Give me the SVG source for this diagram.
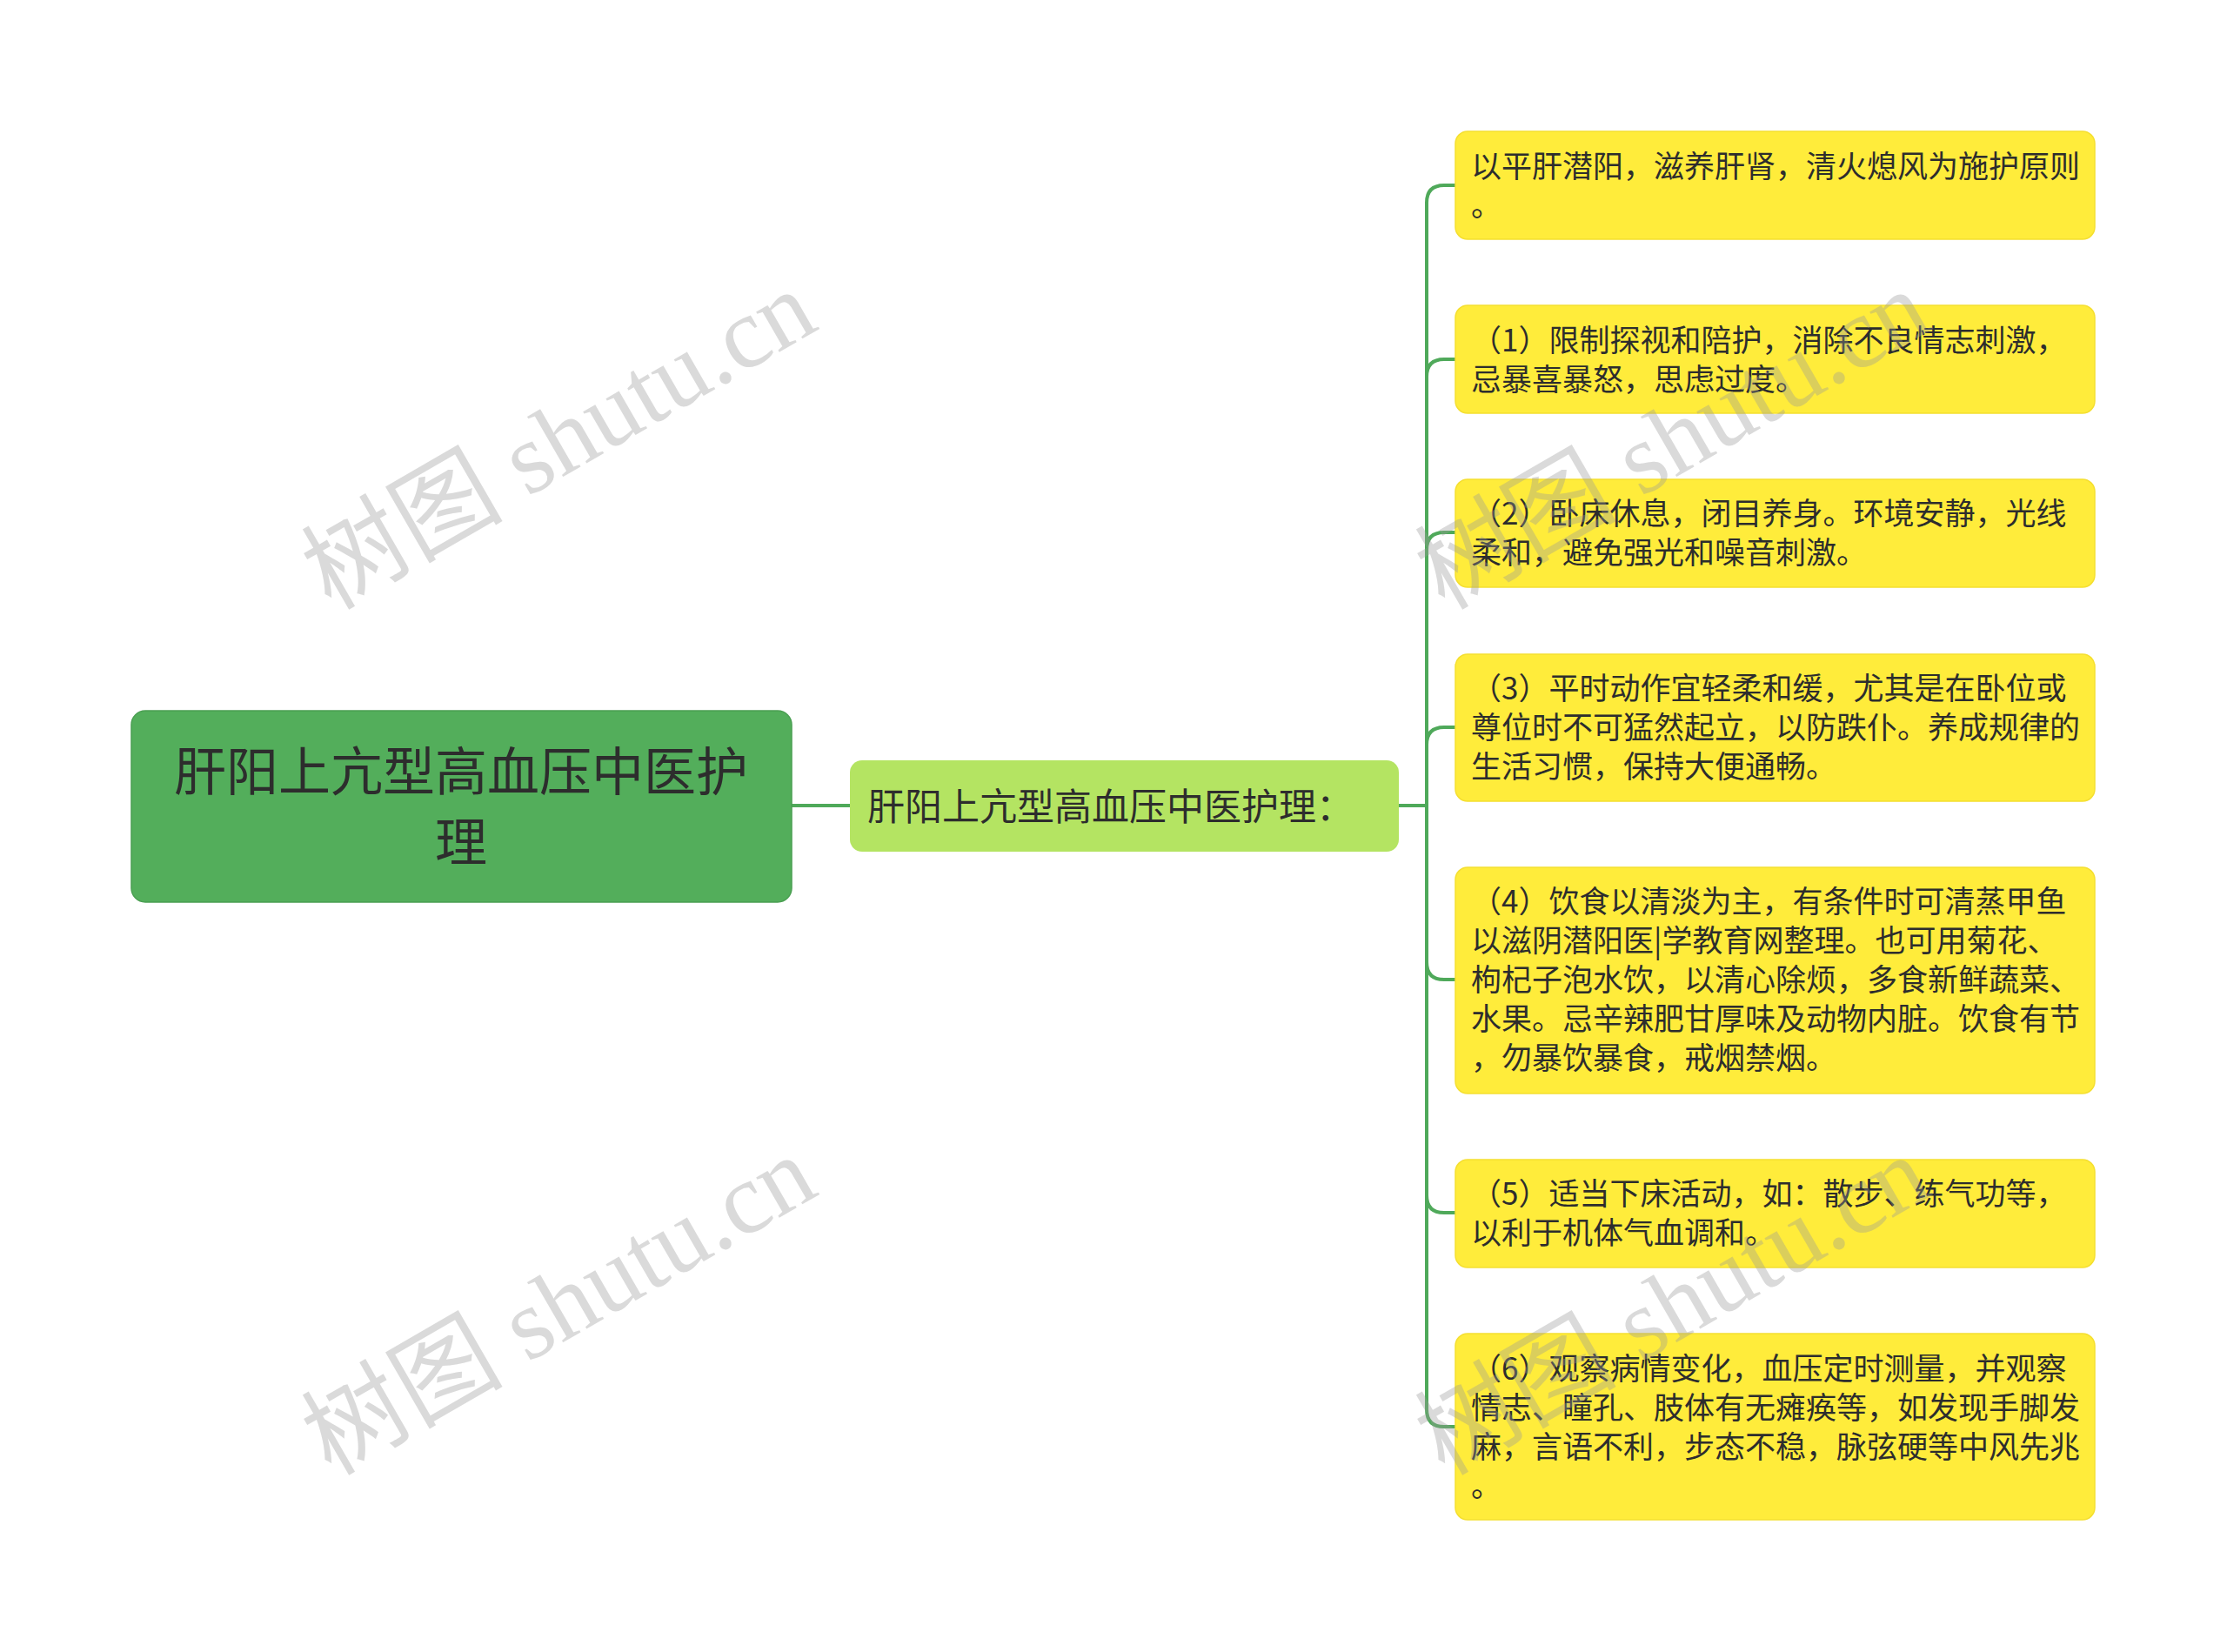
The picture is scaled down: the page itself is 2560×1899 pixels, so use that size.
<svg xmlns="http://www.w3.org/2000/svg" width="2560" height="1899" viewBox="0 0 2560 1899">
<style>
.t{font-family:"Noto Sans CJK SC","Noto Sans",sans-serif;fill:#2d2d2d}
.leaf rect{fill:#FFEC3B;stroke:#F5DF30;stroke-width:1.5}
.leaf text{font-size:35px}
.con path{fill:none;stroke:#4FA95A;stroke-width:4;stroke-linejoin:round}
.wm{font-family:"Liberation Serif","Noto Sans CJK SC",serif;font-size:116px;fill:#999999;fill-opacity:0.36}
</style>
<rect width="2560" height="1899" fill="#ffffff"/>
<g id="connectors" class="con">
<path d="M910,926 H977"/>
<path d="M1608,926 H1640 V233 Q1640,213 1660,213 H1673"/>
<path d="M1608,926 H1640 V433 Q1640,413 1660,413 H1673"/>
<path d="M1608,926 H1640 V632 Q1640,612 1660,612 H1673"/>
<path d="M1608,926 H1640 V856 Q1640,836 1660,836 H1673"/>
<path d="M1608,926 H1640 V1106 Q1640,1126 1660,1126 H1673"/>
<path d="M1608,926 H1640 V1374 Q1640,1394 1660,1394 H1673"/>
<path d="M1608,926 H1640 V1620 Q1640,1640 1660,1640 H1673"/>
</g>
<g id="root">
<rect x="151" y="817" width="759" height="220" rx="16" fill="#53AE5B" stroke="#4A9F52" stroke-width="1.5"/>
<text class="t" font-size="60" text-anchor="middle"><tspan x="530" y="909">肝阳上亢型高血压中医护</tspan><tspan x="530" y="990">理</tspan></text>
</g>
<g id="mid">
<rect x="977" y="874" width="631" height="105" rx="14" fill="#B4E462"/>
<text class="t" font-size="43" x="997" y="943">肝阳上亢型高血压中医护理：</text>
</g>
<g id="leaf1" class="leaf">
<rect x="1673" y="151" width="735" height="124" rx="14"/>
<text class="t"><tspan x="1691" y="204">以平肝潜阳，滋养肝肾，清火熄风为施护原则</tspan><tspan x="1691" y="249">。</tspan></text>
</g>
<g id="leaf2" class="leaf">
<rect x="1673" y="351" width="735" height="124" rx="14"/>
<text class="t"><tspan x="1691" y="404">（1）限制探视和陪护，消除不良情志刺激，</tspan><tspan x="1691" y="449">忌暴喜暴怒，思虑过度。</tspan></text>
</g>
<g id="leaf3" class="leaf">
<rect x="1673" y="551" width="735" height="124" rx="14"/>
<text class="t"><tspan x="1691" y="603">（2）卧床休息，闭目养身。环境安静，光线</tspan><tspan x="1691" y="648">柔和，避免强光和噪音刺激。</tspan></text>
</g>
<g id="leaf4" class="leaf">
<rect x="1673" y="752" width="735" height="169" rx="14"/>
<text class="t"><tspan x="1691" y="804">（3）平时动作宜轻柔和缓，尤其是在卧位或</tspan><tspan x="1691" y="849">尊位时不可猛然起立，以防跌仆。养成规律的</tspan><tspan x="1691" y="894">生活习惯，保持大便通畅。</tspan></text>
</g>
<g id="leaf5" class="leaf">
<rect x="1673" y="997" width="735" height="260" rx="14"/>
<text class="t"><tspan x="1691" y="1049">（4）饮食以清淡为主，有条件时可清蒸甲鱼</tspan><tspan x="1691" y="1094">以滋阴潜阳医|学教育网整理。也可用菊花、</tspan><tspan x="1691" y="1139">枸杞子泡水饮，以清心除烦，多食新鲜蔬菜、</tspan><tspan x="1691" y="1184">水果。忌辛辣肥甘厚味及动物内脏。饮食有节</tspan><tspan x="1691" y="1229">，勿暴饮暴食，戒烟禁烟。</tspan></text>
</g>
<g id="leaf6" class="leaf">
<rect x="1673" y="1333" width="735" height="124" rx="14"/>
<text class="t"><tspan x="1691" y="1385">（5）适当下床活动，如：散步、练气功等，</tspan><tspan x="1691" y="1430">以利于机体气血调和。</tspan></text>
</g>
<g id="leaf7" class="leaf">
<rect x="1673" y="1533" width="735" height="214" rx="14"/>
<text class="t"><tspan x="1691" y="1586">（6）观察病情变化，血压定时测量，并观察</tspan><tspan x="1691" y="1631">情志、瞳孔、肢体有无瘫痪等，如发现手脚发</tspan><tspan x="1691" y="1676">麻，言语不利，步态不稳，脉弦硬等中风先兆</tspan><tspan x="1691" y="1721">。</tspan></text>
</g>
<g id="watermarks">
<text class="wm" text-anchor="middle" transform="translate(642,505) rotate(-30)" x="0" y="40">树图 shutu.cn</text>
<text class="wm" text-anchor="middle" transform="translate(1922,505) rotate(-30)" x="0" y="40">树图 shutu.cn</text>
<text class="wm" text-anchor="middle" transform="translate(642,1500) rotate(-30)" x="0" y="40">树图 shutu.cn</text>
<text class="wm" text-anchor="middle" transform="translate(1922,1500) rotate(-30)" x="0" y="40">树图 shutu.cn</text>
</g>
</svg>
